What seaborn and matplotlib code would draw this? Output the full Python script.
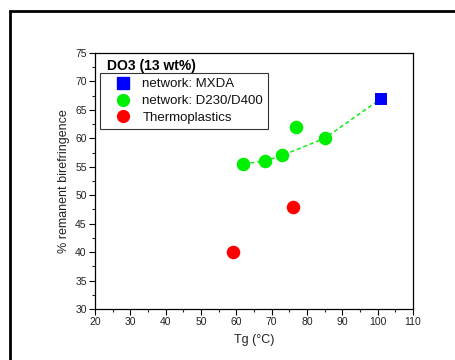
import matplotlib
matplotlib.use("Agg")
import matplotlib.pyplot as plt
import seaborn as sns
import pandas as pd
from matplotlib.patches import Rectangle
from matplotlib.lines import Line2D
from matplotlib.ticker import MultipleLocator

sns.set_style("ticks")
plt.rcParams['font.family'] = ['Liberation Sans', 'DejaVu Sans']

mxda_tg = [101]
mxda_rb = [67]
d230_tg = [62, 68, 73, 77, 85]
d230_rb = [55.5, 56, 57, 62, 60]
thermo_tg = [59, 76]
thermo_rb = [40, 48]
fit_tg = [62, 68, 73, 85, 101]
fit_rb = [55.5, 56, 57, 60, 67]

labels = ["network: MXDA", "network: D230/D400", "Thermoplastics"]
colors = ["#0000ff", "#00ee00", "#ff0000"]

fig = plt.figure(figsize=(4.56, 3.6), dpi=100)
ax = fig.add_axes([95/456, 1-309/360, 318/456, 256/360])

fit_df = pd.DataFrame({"tg": fit_tg, "rb": fit_rb})
sns.lineplot(data=fit_df, x="tg", y="rb", ax=ax, color="#00ee00", linestyle=(0, (3, 2)),
             linewidth=1.0, sort=True, legend=False, zorder=1)

d230_df = pd.DataFrame({"tg": d230_tg, "rb": d230_rb})
thermo_df = pd.DataFrame({"tg": thermo_tg, "rb": thermo_rb})
mxda_df = pd.DataFrame({"tg": mxda_tg, "rb": mxda_rb})
sns.scatterplot(data=d230_df, x="tg", y="rb", ax=ax, color=colors[1], marker="o", s=95,
                edgecolor=colors[1], linewidth=0, zorder=3)
sns.scatterplot(data=thermo_df, x="tg", y="rb", ax=ax, color=colors[2], marker="o", s=95,
                edgecolor=colors[2], linewidth=0, zorder=3)
sns.scatterplot(data=mxda_df, x="tg", y="rb", ax=ax, color=colors[0], marker="s", s=75,
                edgecolor=colors[0], linewidth=0, zorder=3)

ax.set_xlim(20, 110)
ax.set_ylim(30, 75)
ax.xaxis.set_major_locator(MultipleLocator(10))
ax.xaxis.set_minor_locator(MultipleLocator(5))
ax.yaxis.set_major_locator(MultipleLocator(5))
ax.yaxis.set_minor_locator(MultipleLocator(2.5))
ax.tick_params(which="major", direction="out", length=4, width=0.8, labelsize=7.5,
               colors="black", labelcolor="#222222", pad=2)
ax.tick_params(which="minor", direction="out", length=2, width=0.8)
for s in ax.spines.values():
    s.set_linewidth(0.9)
    s.set_color("black")
ax.set_xlabel("Tg (°C)", fontsize=9, color="#222222", labelpad=5)
ax.set_ylabel("% remanent birefringence", fontsize=9, color="#222222", labelpad=4)

handles = [
    Line2D([], [], marker="s", color="none", markerfacecolor=colors[0], markeredgecolor=colors[0], markersize=8),
    Line2D([], [], marker="o", color="none", markerfacecolor=colors[1], markeredgecolor=colors[1], markersize=8.5),
    Line2D([], [], marker="o", color="none", markerfacecolor=colors[2], markeredgecolor=colors[2], markersize=8.5),
]
leg = ax.legend(handles, labels, loc="upper left", bbox_to_anchor=(0.016, 0.922),
                fontsize=9.5, frameon=True, fancybox=False, edgecolor="black",
                borderpad=0.4, labelspacing=0.34, handletextpad=0.2, handlelength=2.6,
                borderaxespad=0)
leg.get_frame().set_linewidth(0.8)
for t in leg.get_texts():
    t.set_color("#111111")
ax.text(12/318, 1 - 13/256, "DO3 (13 wt%)", transform=ax.transAxes, fontsize=10,
        fontweight="bold", ha="left", va="center", color="black")

fig.patches.append(Rectangle((10/456, -0.2), 1.5, 1.2 - 11/360, transform=fig.transFigure,
                             fill=False, edgecolor="black", linewidth=2))

fig.savefig("out.png", dpi=100)
